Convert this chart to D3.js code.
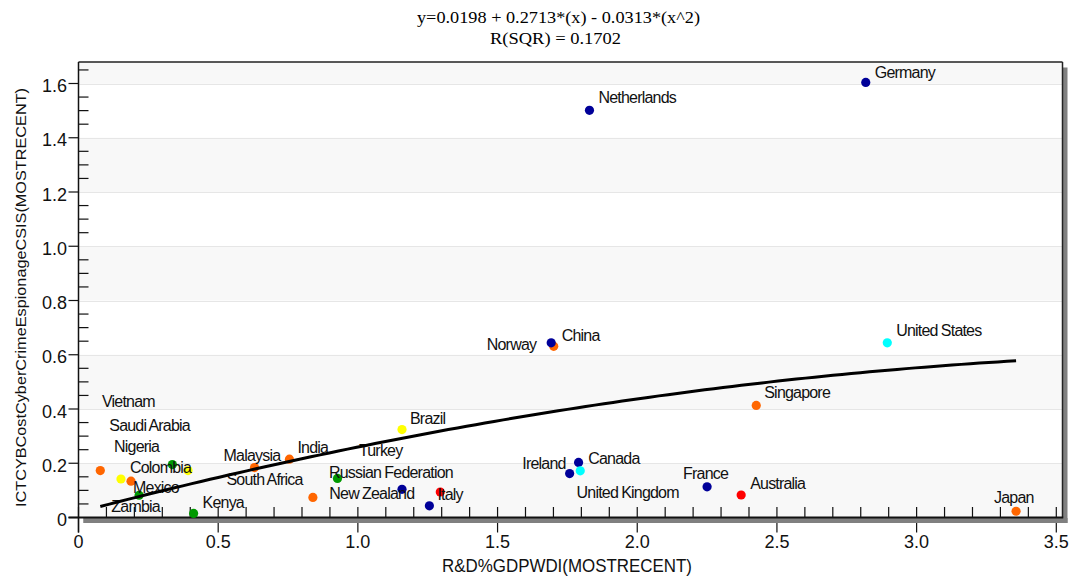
<!DOCTYPE html>
<html><head><meta charset="utf-8">
<script src="https://cdn.jsdelivr.net/npm/d3@7"></script>
<style>body{margin:0;background:#fff;} svg{display:block;}</style>
</head><body>
<svg id="chart" width="1070" height="577"></svg>
<script>
// ---------------- data ----------------
const countries = ["Saudi Arabia","Colombia","Vietnam","Nigeria","Zambia","Mexico","Kenya","Malaysia","India","Turkey","South Africa","Brazil","Russian Federation","Italy","New Zealand","China","Norway","Netherlands","Ireland","United Kingdom","Canada","France","Australia","Singapore","United States","Germany","Japan"];
const rdGdp = [0.078,0.152,0.188,0.217,0.336,0.392,0.412,0.630,0.755,0.839,0.927,1.158,1.158,1.256,1.295,1.701,1.692,1.829,1.758,1.790,1.796,2.250,2.372,2.426,2.895,2.818,3.356];
const cyberCost = [0.173,0.142,0.134,0.082,0.195,0.173,0.015,0.184,0.215,0.074,0.144,0.324,0.104,0.043,0.094,0.631,0.644,1.501,0.162,0.203,0.172,0.113,0.083,0.413,0.644,1.604,0.023];
const regions = ["Asia","Latin America","Asia","Africa","Africa","Latin America","Africa","Asia","Asia","Asia","Africa","Latin America","Europe","Europe","Oceania","Asia","Europe","Europe","Europe","Europe","North America","Europe","Oceania","Asia","North America","Europe","Asia"];
const fitCoef = [0.0198, 0.2713, -0.0313];
const rSquared = 0.1702;
const xTicks = [0, 0.5, 1.0, 1.5, 2.0, 2.5, 3.0, 3.5];
const xTickLabels = ["0","0.5","1.0","1.5","2.0","2.5","3.0","3.5"];
const yTicks = [0, 0.2, 0.4, 0.6, 0.8, 1.0, 1.2, 1.4, 1.6];
const yTickLabels = ["0","0.2","0.4","0.6","0.8","1.0","1.2","1.4","1.6"];
const xTitle = "R&D%GDPWDI(MOSTRECENT)";
const yTitle = "ICTCYBCostCyberCrimeEspionageCSIS(MOSTRECENT)";

// ---------------- styles / layout ----------------
const regionColors = {"Europe":"#000099","Asia":"#FF6600","Africa":"#009900","Latin America":"#FFFF00","North America":"#00FFFF","Oceania":"#FF0000"};
const labelOffsets = {
  "Saudi Arabia":[9,-40],"Colombia":[9,-6],"Vietnam":[-29,-74],"Nigeria":[-25,-43],"Zambia":[-61,47],
  "Mexico":[-55,22],"Kenya":[9,-5],"Malaysia":[-31,-7],"India":[8,-6],"Turkey":[46,-41],
  "South Africa":[-111,7],"Brazil":[8,-6],"Russian Federation":[-73,-11],"Italy":[8,-6],
  "New Zealand":[-111,7],"China":[8,-5],"Norway":[-15,7,"end"],"Netherlands":[9,-7],
  "Ireland":[-4,-5,"end"],"United Kingdom":[-2,36],"Canada":[8,-7],"France":[-24,-8],
  "Australia":[9,-6],"Singapore":[8,-7],"United States":[9,-7],"Germany":[9,-4],"Japan":[-22,-8]
};
const P = {left:78.5, right:1062.5, top:62, bottom:517.5};
const sans = "'Liberation Sans', Arial, Helvetica, sans-serif";
const serif = "'Liberation Serif', 'Times New Roman', serif";

const svg = d3.select("#chart");
const x = d3.scaleLinear().domain([0, 3.5]).range([P.left, 1056.3]);
const y = d3.scaleLinear().domain([0, 1.6]).range([P.bottom, 83.5]);
const yTopVal = y.invert(P.top);

// shadow
svg.append("rect").attr("x", P.left + 5).attr("y", P.top + 5.5)
  .attr("width", P.right - P.left).attr("height", P.bottom - P.top)
  .attr("fill", "#808080");
// plot background
svg.append("rect").attr("x", P.left).attr("y", P.top)
  .attr("width", P.right - P.left).attr("height", P.bottom - P.top).attr("fill", "#fff");
// alternating bands
const bandStarts = d3.range(0, yTopVal, 0.4);
svg.append("g").selectAll("rect").data(bandStarts).join("rect")
  .attr("x", P.left).attr("width", P.right - P.left)
  .attr("y", d => y(Math.min(d + 0.2, yTopVal)))
  .attr("height", d => y(d) - y(Math.min(d + 0.2, yTopVal)))
  .attr("fill", "#f8f8f8");
svg.append("rect").attr("x", P.left).attr("width", P.right - P.left)
  .attr("y", P.top).attr("height", y(1.6) - P.top).attr("fill", "#f8f8f8");
// gridlines
svg.append("g").selectAll("line").data(yTicks.slice(1)).join("line")
  .attr("x1", P.left).attr("x2", P.right)
  .attr("y1", d => Math.round(y(d)) + 0.5).attr("y2", d => Math.round(y(d)) + 0.5)
  .attr("stroke", "#e6e6e6").attr("stroke-width", 1);

// minor ticks
const xMinor = d3.range(0.1, 3.51, 0.1).filter(v => Math.abs(v / 0.5 - Math.round(v / 0.5)) > 1e-6);
svg.append("g").selectAll("line").data(xMinor).join("line")
  .attr("x1", d => x(d)).attr("x2", d => x(d))
  .attr("y1", P.bottom).attr("y2", P.bottom - 10.5)
  .attr("stroke", "#111").attr("stroke-width", 1.2);
const yMinor = d3.range(0.05, yTopVal, 0.05).filter(v => Math.abs(v / 0.2 - Math.round(v / 0.2)) > 1e-6);
svg.append("g").selectAll("line").data(yMinor).join("line")
  .attr("x1", P.left).attr("x2", P.left + 10)
  .attr("y1", d => y(d)).attr("y2", d => y(d))
  .attr("stroke", "#111").attr("stroke-width", 1.2);

// major x ticks (through axis)
svg.append("g").selectAll("line").data(xTicks).join("line")
  .attr("x1", d => x(d)).attr("x2", d => x(d))
  .attr("y1", P.bottom - 10.5).attr("y2", P.bottom + 15)
  .attr("stroke", "#111").attr("stroke-width", 1.2);
svg.append("rect").attr("x", P.left + 5).attr("y", P.bottom + 0.5)
  .attr("width", P.right - P.left).attr("height", 5).attr("fill", "#808080");
// major y ticks
svg.append("g").selectAll("line").data(yTicks).join("line")
  .attr("x1", P.left - 10).attr("x2", P.left)
  .attr("y1", d => y(d)).attr("y2", d => y(d))
  .attr("stroke", "#111").attr("stroke-width", 1.2);

// frame
svg.append("line").attr("x1", P.left).attr("x2", P.right).attr("y1", P.top).attr("y2", P.top)
  .attr("stroke", "#222").attr("stroke-width", 1.5);
svg.append("line").attr("x1", P.right).attr("x2", P.right).attr("y1", P.top).attr("y2", P.bottom)
  .attr("stroke", "#222").attr("stroke-width", 1.5);
svg.append("line").attr("x1", P.left).attr("x2", P.left).attr("y1", P.top).attr("y2", P.bottom + 15)
  .attr("stroke", "#111").attr("stroke-width", 1.5);
svg.append("line").attr("x1", P.left - 10).attr("x2", P.right + 0.75).attr("y1", P.bottom).attr("y2", P.bottom)
  .attr("stroke", "#111").attr("stroke-width", 2.2);

// tick labels
svg.append("g").selectAll("text").data(xTicks).join("text")
  .attr("x", d => x(d)).attr("y", 548)
  .attr("text-anchor", "middle").attr("font-family", sans).attr("font-size", 18).attr("fill", "#111")
  .text((d, i) => xTickLabels[i]);
svg.append("g").selectAll("text").data(yTicks).join("text")
  .attr("x", 67).attr("y", d => y(d) + 8.5)
  .attr("text-anchor", "end").attr("font-family", sans).attr("font-size", 18).attr("fill", "#111")
  .text((d, i) => yTickLabels[i]);

// axis titles
svg.append("text").attr("x", 567).attr("y", 572).attr("text-anchor", "middle")
  .attr("font-family", sans).attr("font-size", 17.5).attr("fill", "#111")
  .attr("textLength", 250).attr("lengthAdjust", "spacingAndGlyphs").text(xTitle);
svg.append("text").attr("transform", "translate(26,297.5) rotate(-90)").attr("text-anchor", "middle")
  .attr("font-family", sans).attr("font-size", 15.5).attr("fill", "#111")
  .attr("textLength", 419).attr("lengthAdjust", "spacingAndGlyphs").text(yTitle);

// chart title (fit equation)
const fmt = d3.format(".4f");
const eq = `y=${fmt(fitCoef[0])} + ${fmt(fitCoef[1])}*(x) - ${fmt(Math.abs(fitCoef[2]))}*(x^2)`;
svg.append("text").attr("x", 558.5).attr("y", 23).attr("text-anchor", "middle")
  .attr("font-family", serif).attr("font-size", 17.5).attr("fill", "#000")
  .attr("textLength", 283).attr("lengthAdjust", "spacingAndGlyphs").text(eq);
svg.append("text").attr("x", 555.5).attr("y", 44).attr("text-anchor", "middle")
  .attr("font-family", serif).attr("font-size", 17.5).attr("fill", "#000")
  .attr("textLength", 131).attr("lengthAdjust", "spacingAndGlyphs").text(`R(SQR) = ${fmt(rSquared)}`);

// points
const pts = countries.map((c, i) => ({c, x: rdGdp[i], y: cyberCost[i], r: regions[i]}));
svg.append("g").selectAll("circle").data(pts).join("circle")
  .attr("cx", d => x(d.x)).attr("cy", d => y(d.y)).attr("r", 4.6)
  .attr("fill", d => regionColors[d.r]);

// labels
svg.append("g").selectAll("text").data(pts).join("text")
  .attr("x", d => x(d.x) + labelOffsets[d.c][0])
  .attr("y", d => y(d.y) + labelOffsets[d.c][1])
  .attr("text-anchor", d => labelOffsets[d.c][2] || "start")
  .attr("font-family", sans).attr("font-size", 16).attr("fill", "#111")
  .attr("letter-spacing", "-0.8px").attr("word-spacing", "-0.5px")
  .text(d => d.c);

// regression curve
const xMin = d3.min(rdGdp), xMax = d3.max(rdGdp);
const fitPts = d3.range(0, 101).map(k => {
  const xv = xMin + (xMax - xMin) * k / 100;
  return [xv, fitCoef[0] + fitCoef[1] * xv + fitCoef[2] * xv * xv];
});
svg.append("path").datum(fitPts)
  .attr("d", d3.line().x(d => x(d[0])).y(d => y(d[1])))
  .attr("fill", "none").attr("stroke", "#000").attr("stroke-width", 3);
</script>
</body></html>
